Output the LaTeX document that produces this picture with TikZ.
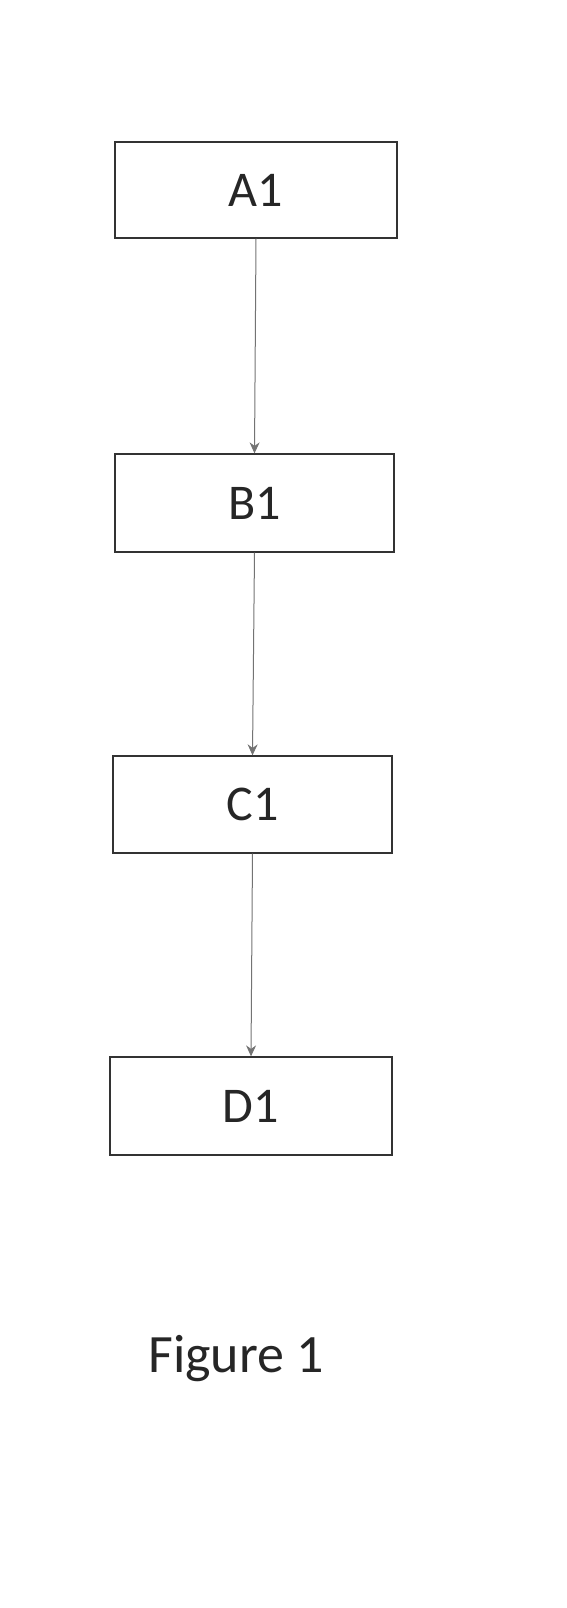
\documentclass[tikz,border=0pt]{standalone}
\usepackage{fontspec}
\setmainfont{Carlito}
\usetikzlibrary{arrows.meta}
\begin{document}
\begin{tikzpicture}[x=1pt,y=-1pt,
  box/.style={draw=black!80, line width=1.3pt, minimum width=280pt, minimum height=97pt, inner sep=0pt,
    font=\fontsize{50}{60}\selectfont, text=black!85},
  conn/.style={draw=black!55, line width=1pt, -{Stealth[length=11pt,width=10pt]}}]
\useasboundingbox (0,0) rectangle (567,1608);
\node[box, minimum width=282pt, minimum height=96pt] (A1) at (256,190) {A1};
\node[box, minimum width=279pt, minimum height=98pt] (B1) at (254.5,503) {B1};
\node[box, minimum width=279pt, minimum height=97pt] (C1) at (252.5,804.5) {C1};
\node[box, minimum width=282pt, minimum height=98pt] (D1) at (251,1106) {D1};
\node[anchor=base, inner sep=0pt, font=\fontsize{54}{60}\selectfont, text=black!85] (fig) at (236,1372) {Figure 1};
\draw[conn] (A1.south) -- (B1.north);
\draw[conn] (B1.south) -- (C1.north);
\draw[conn] (C1.south) -- (D1.north);
\end{tikzpicture}
\end{document}
